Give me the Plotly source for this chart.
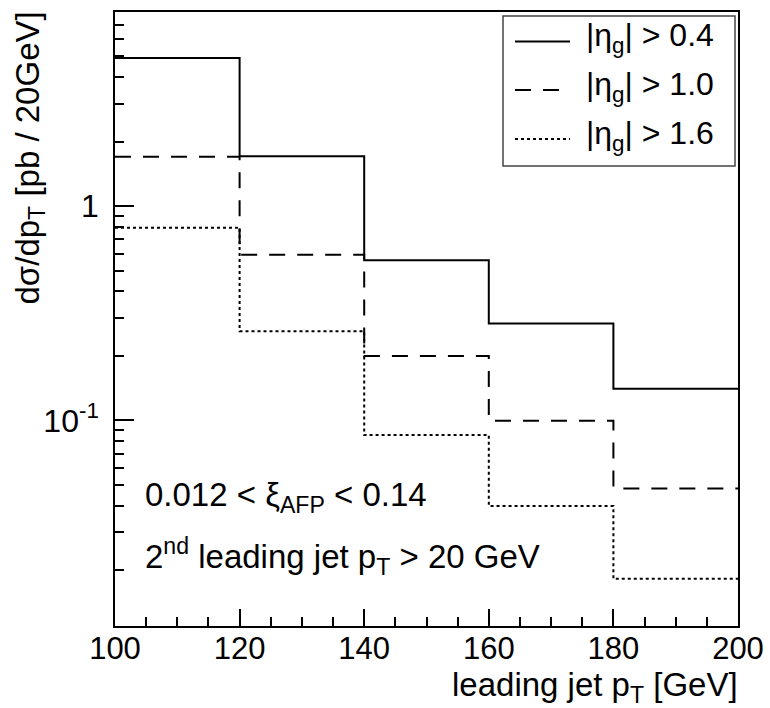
import plotly.graph_objects as go

# ---- data ----
bin_edges = [100, 120, 140, 160, 180, 200]
eta04 = [4.92, 1.71, 0.559, 0.283, 0.1405]
eta10 = [1.70, 0.594, 0.200, 0.0995, 0.0481]
eta16 = [0.794, 0.261, 0.0854, 0.0398, 0.0182]
series_names = ["|η<sub>g</sub>| &gt; 0.4", "|η<sub>g</sub>| &gt; 1.0", "|η<sub>g</sub>| &gt; 1.6"]
series_dash = ["solid", "16px,12px", "3px,3px"]

# ---- layout geometry (pixels) ----
W, H = 770, 708
L, R, T, B = 115, 32, 12, 82
PW, PH = W - L - R, H - T - B
FONT = "Liberation Sans, Arial, Helvetica, sans-serif"

def px(xp):
    return (xp - L) / PW

def py(yp):
    return (H - B - yp) / PH

fig = go.Figure()
for vals, dash, name in zip([eta04, eta10, eta16], series_dash, series_names):
    fig.add_trace(go.Scatter(
        x=bin_edges, y=vals + [vals[-1]], mode="lines", name=name,
        line=dict(color="black", width=2, dash=dash, shape="hv"),
        showlegend=False, hoverinfo="skip"))

minor_vals = [m * 10.0 ** e for e in (-2, -1, 0) for m in range(2, 10)]

fig.update_layout(
    width=W, height=H,
    margin=dict(l=L, r=R, t=T, b=B),
    plot_bgcolor="white", paper_bgcolor="white",
    font=dict(family=FONT, color="black", size=32),
    xaxis=dict(range=[100, 200], tickvals=[100, 120, 140, 160, 180, 200],
               ticks="inside", ticklen=17, tickwidth=1.5, tickcolor="black",
               minor=dict(dtick=5, ticks="inside", ticklen=9, tickwidth=1.5, tickcolor="black"),
               showline=True, linecolor="black", linewidth=1.5, mirror=True,
               showgrid=False, zeroline=False, ticklabelstandoff=-6,
               tickfont=dict(size=31), automargin=False),
    yaxis=dict(type="log", range=[-1.960, 0.9065], tickvals=[0.1, 1],
               ticktext=["10<sup>-1</sup>", "1"],
               ticks="inside", ticklen=19, tickwidth=1.5, tickcolor="black",
               minor=dict(tickvals=minor_vals, ticks="inside", ticklen=9, tickwidth=1.5, tickcolor="black"),
               showline=True, linecolor="black", linewidth=1.5, mirror=True,
               showgrid=False, zeroline=False, ticklabelstandoff=8,
               tickfont=dict(size=32), automargin=False),
)

# axis titles
fig.add_annotation(text="dσ/dp<sub>T</sub> [pb / 20GeV]", textangle=-90,
                   xref="paper", yref="paper", x=px(29), y=py(10), xanchor="center", yanchor="top",
                   showarrow=False, font=dict(size=33))
fig.add_annotation(text="leading jet p<sub>T</sub> [GeV]",
                   xref="paper", yref="paper", x=px(740), y=py(664), xanchor="right", yanchor="top",
                   showarrow=False, font=dict(size=33))

# text labels
fig.add_annotation(text="0.012 &lt; ξ<sub>AFP</sub> &lt; 0.14",
                   xref="paper", yref="paper", x=px(143), y=py(474), xanchor="left", yanchor="top",
                   showarrow=False, font=dict(size=33))
fig.add_annotation(text="2<sup>nd</sup> leading jet p<sub>T</sub> &gt; 20 GeV",
                   xref="paper", yref="paper", x=px(143), y=py(531), xanchor="left", yanchor="top",
                   showarrow=False, font=dict(size=33))

# legend box
fig.add_shape(type="rect", xref="paper", yref="paper",
              x0=px(503), x1=px(735), y0=py(166), y1=py(16),
              line=dict(color="#444", width=1.5), fillcolor="white", layer="above")
row_y = [41.5, 90, 139]
for name, dash, ry in zip(series_names, series_dash, row_y):
    fig.add_shape(type="line", xref="paper", yref="paper",
                  x0=px(515), x1=px(570), y0=py(ry), y1=py(ry),
                  line=dict(color="black", width=2, dash=dash), layer="above")
    fig.add_annotation(text=name, xref="paper", yref="paper",
                       x=px(584), y=py(ry - 4), xanchor="left", yanchor="middle",
                       showarrow=False, font=dict(size=32))

fig.write_html("out.html", config={"displayModeBar": False},
               post_script="document.body.style.margin='0';document.body.style.padding='0';")
